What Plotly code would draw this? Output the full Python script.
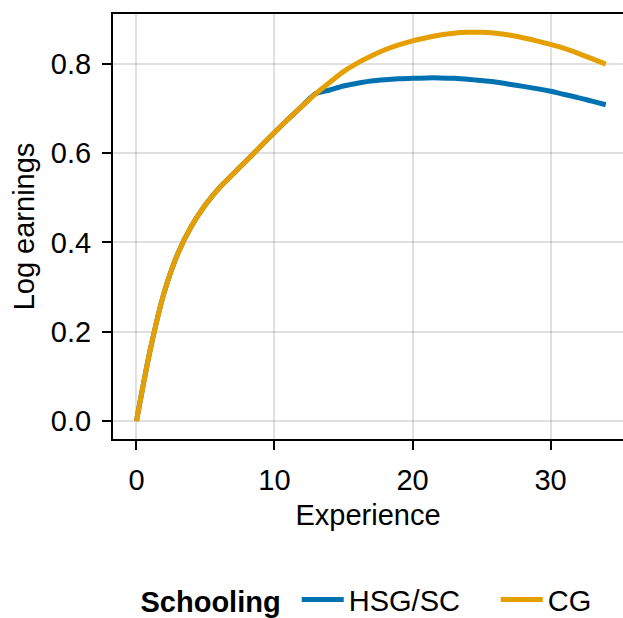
import plotly.graph_objects as go

# Potential experience (years)
experience = list(range(0, 35))

# Log earnings profile, high-school graduates / some college
log_earn_hsg = [0.000, 0.160, 0.287, 0.375, 0.437, 0.484, 0.522, 0.553, 0.584, 0.615,
                0.646, 0.676, 0.705, 0.733, 0.741, 0.750, 0.756, 0.761, 0.764, 0.766,
                0.767, 0.768, 0.768, 0.767, 0.765, 0.762, 0.759, 0.754, 0.749, 0.744,
                0.738, 0.731, 0.724, 0.716, 0.708]

# Log earnings profile, college graduates
log_earn_cg = [0.000, 0.160, 0.287, 0.375, 0.437, 0.484, 0.522, 0.553, 0.584, 0.615,
               0.646, 0.676, 0.705, 0.733, 0.758, 0.782, 0.801, 0.817, 0.831, 0.842,
               0.851, 0.858, 0.864, 0.868, 0.870, 0.870, 0.868, 0.864, 0.858, 0.851,
               0.843, 0.834, 0.823, 0.811, 0.799]

group_names = ["HSG/SC", "CG"]
group_colors = ["#0072B2", "#E69F00"]

x_ticks = [0, 10, 20, 30]
y_ticks = [0.0, 0.2, 0.4, 0.6, 0.8]
y_tick_text = ["0.0", "0.2", "0.4", "0.6", "0.8"]

FONT = "Liberation Sans, Arial, Helvetica, sans-serif"
FS = 29

fig = go.Figure()
for name, values, color in zip(group_names, [log_earn_hsg, log_earn_cg], group_colors):
    fig.add_trace(go.Scatter(
        x=experience, y=values, mode="lines", name=name,
        line=dict(color=color, width=5, shape="spline", smoothing=0.8),
    ))

axis_common = dict(
    showline=True, linecolor="black", linewidth=2,
    ticks="outside", ticklen=9, tickwidth=2, tickcolor="black",
    showgrid=True, gridcolor="rgba(0,0,0,0.12)", gridwidth=2,
    zeroline=False,
    tickfont=dict(family=FONT, size=FS, color="black"),
)

fig.update_layout(
    width=623, height=618,
    margin=dict(l=113, r=0, t=14, b=179, autoexpand=False),
    paper_bgcolor="white", plot_bgcolor="white",
    font=dict(family=FONT, color="black"),
    xaxis=dict(
        axis_common, range=[-1.7, 35.25], tickvals=x_ticks, mirror=True,
        ticklabelstandoff=5,
        title=dict(text="Experience", font=dict(family=FONT, size=FS), standoff=10),
    ),
    yaxis=dict(
        axis_common, range=[-0.040, 0.911], tickvals=y_ticks, ticktext=y_tick_text,
        ticklabelstandoff=5,
        title=dict(text="Log earnings", font=dict(family=FONT, size=FS), standoff=8),
    ),
    showlegend=True,
    legend=dict(
        orientation="h", x=0.05, xanchor="left", y=-0.378, yanchor="middle",
        font=dict(family=FONT, size=FS, color="black"),
        title=dict(text="<b>Schooling</b> ", side="left",
                   font=dict(family=FONT, size=FS, color="black")),
        itemwidth=42, entrywidth=142, entrywidthmode="pixels",
        bgcolor="rgba(0,0,0,0)",
    ),
)

fig.write_html("out.html")
